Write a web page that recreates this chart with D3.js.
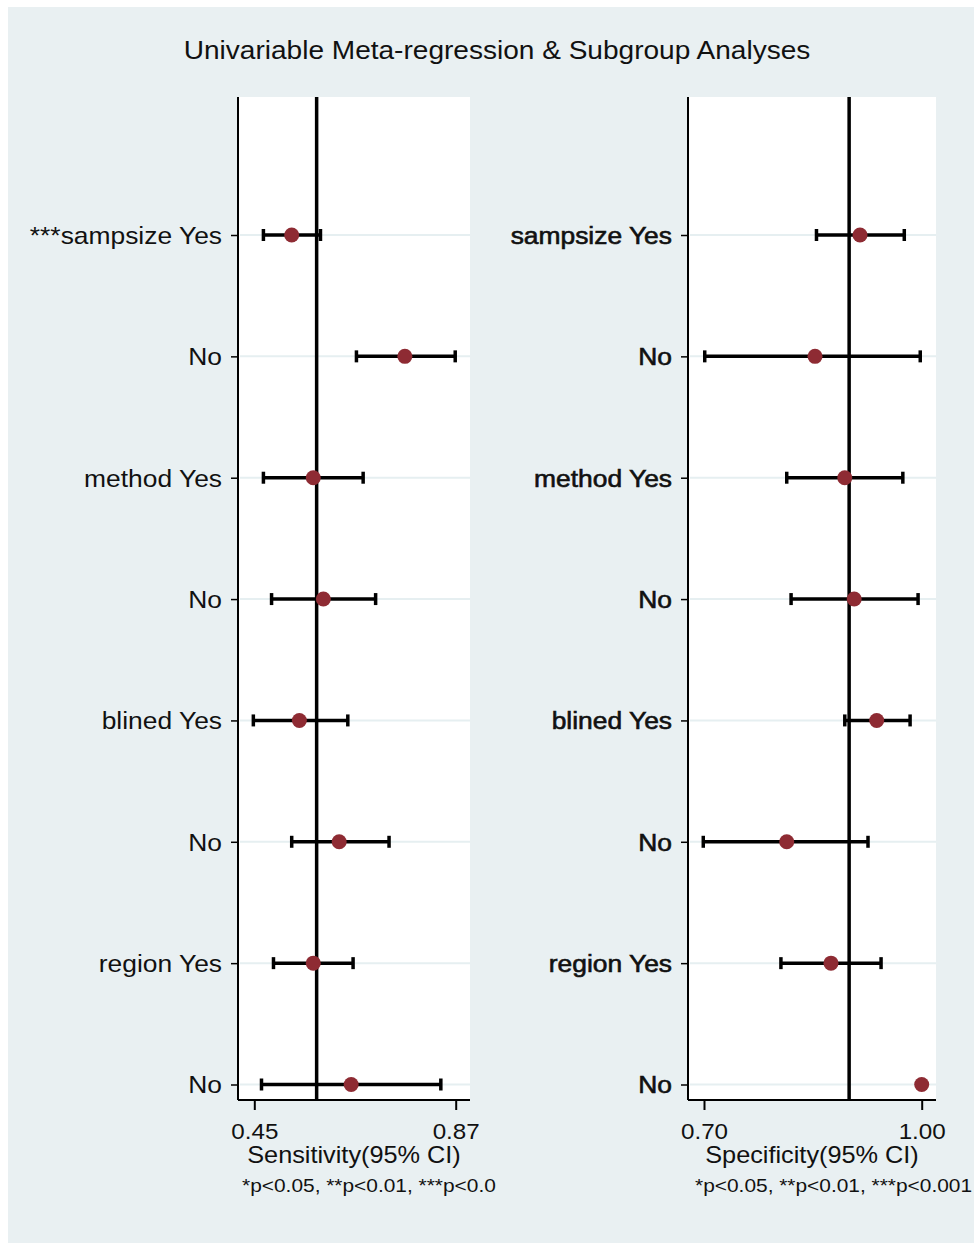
<!DOCTYPE html>
<html>
<head>
<meta charset="utf-8">
<script src="https://cdn.jsdelivr.net/npm/d3@7"></script>
<style>
  html, body { margin: 0; padding: 0; background: #ffffff; }
  svg { display: block; }
  text { font-family: "Liberation Sans", Arial, sans-serif; fill: #111; }
</style>
</head>
<body>
<svg id="chart" width="974" height="1243"></svg>
<script>
// Row labels for the two panels
const sensLabels = ["***sampsize Yes", "No", "method Yes", "No", "blined Yes", "No", "region Yes", "No"];
const specLabels = ["sampsize Yes", "No", "method Yes", "No", "blined Yes", "No", "region Yes", "No"];

// Pooled sensitivity with 95% CI per subgroup
const sensEst = [0.528, 0.764, 0.573, 0.594, 0.544, 0.627, 0.573, 0.652];
const sensLo  = [0.469, 0.663, 0.469, 0.486, 0.448, 0.528, 0.490, 0.465];
const sensHi  = [0.588, 0.869, 0.677, 0.703, 0.645, 0.731, 0.656, 0.839];

// Pooled specificity with 95% CI per subgroup
const specEst = [0.915, 0.853, 0.894, 0.907, 0.938, 0.814, 0.875, 1.000];
const specLo  = [0.855, 0.701, 0.814, 0.820, 0.894, 0.699, 0.806, null];
const specHi  = [0.976, 0.998, 0.974, 0.995, 0.984, 0.926, 0.944, null];

// Overall pooled estimates (reference lines)
const sensRef = 0.58;
const specRef = 0.90;

// Axis tick labels
const sensTicks = [0.45, 0.87];
const specTicks = [0.70, 1.00];

const titleText = "Univariable Meta-regression & Subgroup Analyses";
const noteText = ["*p<0.05, **p<0.01, ***p<0.0", "*p<0.05, **p<0.01, ***p<0.001"];

const STRETCH = 1.1;           // horizontal text scaling
const BG = "#e9f0f2";
const MARKER = "#8e2b33";

const svg = d3.select("#chart");

svg.append("rect").attr("x", 8).attr("y", 7).attr("width", 966).attr("height", 1236).attr("fill", BG);

function stretchedText(parent, x, y, str, size, anchor) {
  const g = parent.append("g").attr("transform", `translate(${x},${y}) scale(${STRETCH},1)`);
  return g.append("text").attr("text-anchor", anchor || "middle").attr("font-size", size).text(str);
}

stretchedText(svg, 497, 59, titleText, 25.5, "middle");

const plotTop = 97, plotBottom = 1100;
const y = d3.scalePoint().domain(d3.range(8)).range([235, 1084.5]);

const panels = [
  { left: 238, right: 470, domain: sensTicks, range: [254.3, 455.7], ticks: sensTicks,
    labels: sensLabels, est: sensEst, lo: sensLo, hi: sensHi, ref: sensRef,
    title: "Sensitivity(95% CI)", note: noteText[0], noteX: 242, bold: false },
  { left: 688, right: 936, domain: specTicks, range: [704, 921.7], ticks: specTicks,
    labels: specLabels, est: specEst, lo: specLo, hi: specHi, ref: specRef,
    title: "Specificity(95% CI)", note: noteText[1], noteX: 695, bold: true }
];

panels.forEach(p => {
  const x = d3.scaleLinear().domain(p.domain).range(p.range);
  const g = svg.append("g");

  // plot region
  g.append("rect").attr("x", p.left).attr("y", plotTop)
    .attr("width", p.right - p.left).attr("height", plotBottom - plotTop).attr("fill", "#ffffff");

  // horizontal grid lines
  g.selectAll("line.grid").data(d3.range(8)).join("line")
    .attr("class", "grid")
    .attr("x1", p.left + 2).attr("x2", p.right)
    .attr("y1", d => y(d)).attr("y2", d => y(d))
    .attr("stroke", "#e6eff1").attr("stroke-width", 2);

  // reference line at pooled estimate
  g.append("line").attr("x1", x(p.ref)).attr("x2", x(p.ref))
    .attr("y1", plotTop).attr("y2", plotBottom)
    .attr("stroke", "#000").attr("stroke-width", 3.5);

  // x axis
  const xAxis = d3.axisBottom(x).tickValues(p.ticks).tickFormat(d3.format(".2f")).tickSize(10).tickSizeOuter(0);
  const xa = g.append("g").attr("transform", `translate(0,${plotBottom})`).call(xAxis);
  xa.select(".domain").remove();
  xa.selectAll(".tick line").attr("stroke", "#000").attr("stroke-width", 2);
  xa.selectAll(".tick text")
    .attr("font-family", "Liberation Sans, Arial, sans-serif")
    .attr("font-size", 22).attr("fill", "#111")
    .attr("y", 39).attr("dy", null)
    .attr("transform", `scale(${STRETCH},1)`);
  g.append("line").attr("x1", p.left).attr("x2", p.right).attr("y1", plotBottom).attr("y2", plotBottom)
    .attr("stroke", "#000").attr("stroke-width", 2);

  // y axis with row labels
  const yAxis = d3.axisLeft(y).tickFormat(i => p.labels[i]).tickSize(7).tickSizeOuter(0);
  const ya = g.append("g").attr("transform", `translate(${p.left},0)`).call(yAxis);
  ya.select(".domain").remove();
  ya.selectAll(".tick line").attr("stroke", "#000").attr("stroke-width", 1.5);
  ya.selectAll(".tick text")
    .attr("font-family", "Liberation Sans, Arial, sans-serif")
    .attr("font-size", 24).attr("fill", "#111")
    .attr("x", -16 / STRETCH).attr("dy", "0.35em")
    .attr("transform", `scale(${STRETCH},1)`)
    .attr("stroke", p.bold ? "#111" : null)
    .attr("stroke-width", p.bold ? 0.6 : null);
  g.append("line").attr("x1", p.left).attr("x2", p.left).attr("y1", plotTop).attr("y2", plotBottom)
    .attr("stroke", "#000").attr("stroke-width", 2);

  // confidence intervals
  const rows = d3.range(8).filter(i => p.lo[i] != null && p.hi[i] != null);
  g.selectAll("line.ci").data(rows).join("line")
    .attr("class", "ci")
    .attr("x1", i => x(p.lo[i])).attr("x2", i => x(p.hi[i]))
    .attr("y1", i => y(i)).attr("y2", i => y(i))
    .attr("stroke", "#000").attr("stroke-width", 3.5);
  const caps = rows.flatMap(i => [{ i, v: p.lo[i] }, { i, v: p.hi[i] }]);
  g.selectAll("line.cap").data(caps).join("line")
    .attr("class", "cap")
    .attr("x1", d => x(d.v)).attr("x2", d => x(d.v))
    .attr("y1", d => y(d.i) - 6).attr("y2", d => y(d.i) + 6)
    .attr("stroke", "#000").attr("stroke-width", 3.5);

  // point estimates
  g.selectAll("circle.pt").data(d3.range(8)).join("circle")
    .attr("class", "pt")
    .attr("cx", i => x(p.est[i])).attr("cy", i => y(i)).attr("r", 7.5)
    .attr("fill", MARKER);

  // axis title and note
  stretchedText(g, (p.left + p.right) / 2, 1163, p.title, 23, "middle");
  stretchedText(g, p.noteX, 1192, p.note, 19, "start");
});
</script>
</body>
</html>
